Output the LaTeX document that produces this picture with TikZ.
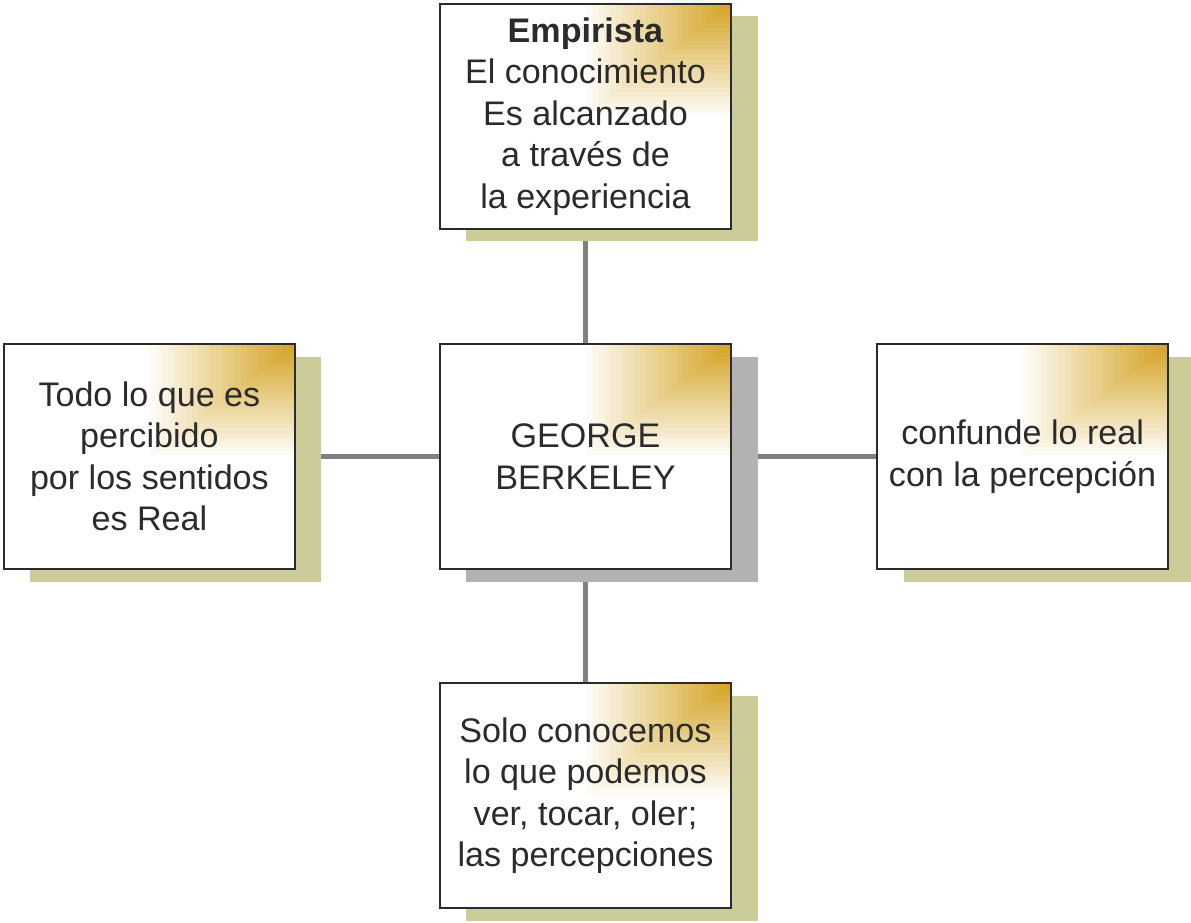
\documentclass[tikz,border=0pt]{standalone}
\usepackage{fontspec}
\setmainfont{Liberation Sans}
\usepackage{xcolor}
\usepackage{tikz}
\usetikzlibrary{positioning,shadows,backgrounds}

\definecolor{cornergold}{RGB}{212,164,38}
\definecolor{olivebg}{RGB}{204,204,153}
\definecolor{greybg}{RGB}{178,178,178}
\definecolor{linegrey}{RGB}{128,128,128}
\definecolor{textgrey}{RGB}{43,43,43}

\begin{document}
\begin{tikzpicture}[
      node distance = 1.13cm,
      font = \fontsize{9.7}{11.8}\selectfont
    ]
    \tikzstyle{my line} = [line width=1.4pt, linegrey]
    \tikzstyle{box node} = [rectangle, draw=textgrey, line width=0.6pt, fill=white,
      text=textgrey, minimum width=2.91cm, minimum height=2.25cm, align=center,
      path picture={
        \foreach \i in {1,...,24} {
          \pgfmathsetmacro{\f}{1-(\i-1)/24}
          \pgfmathsetmacro{\p}{100*\i/24}
          \fill[cornergold!\p!white] (path picture bounding box.north east)
            rectangle ++(-1.45*\f,-1.12*\f);
        }
      }]
    \tikzstyle{olive shadow} = [drop shadow={shadow xshift=0.265cm, shadow yshift=-0.125cm,
      fill=olivebg, opacity=1}]
    \tikzstyle{grey shadow} = [drop shadow={shadow xshift=0.265cm, shadow yshift=-0.125cm,
      fill=greybg, opacity=1}]
    \useasboundingbox (0,0) rectangle (11.91,-9.23);
    \node[box node, grey shadow] (berkeley) at (5.855,-4.565) {GEORGE\\BERKELEY};
    \node[box node, olive shadow] (empirista) [above=of berkeley]
      {\textbf{Empirista}\\El conocimiento\\Es alcanzado\\a través de\\la experiencia};
    \node[box node, olive shadow] (real) [left=1.43cm of berkeley]
      {Todo lo que es\\percibido\\por los sentidos\\es Real};
    \node[box node, olive shadow] (confunde) [right=1.44cm of berkeley]
      {confunde lo real\\con la percepción};
    \node[box node, olive shadow] (solo) [below=1.12cm of berkeley]
      {Solo conocemos\\lo que podemos\\ver, tocar, oler;\\las percepciones};
    \begin{scope}[on background layer]
      \draw[my line] (berkeley) -- (empirista);
      \draw[my line] (berkeley) -- (real);
      \draw[my line] (berkeley) -- (confunde);
      \draw[my line] (berkeley) -- (solo);
    \end{scope}
  \end{tikzpicture}
\end{document}
